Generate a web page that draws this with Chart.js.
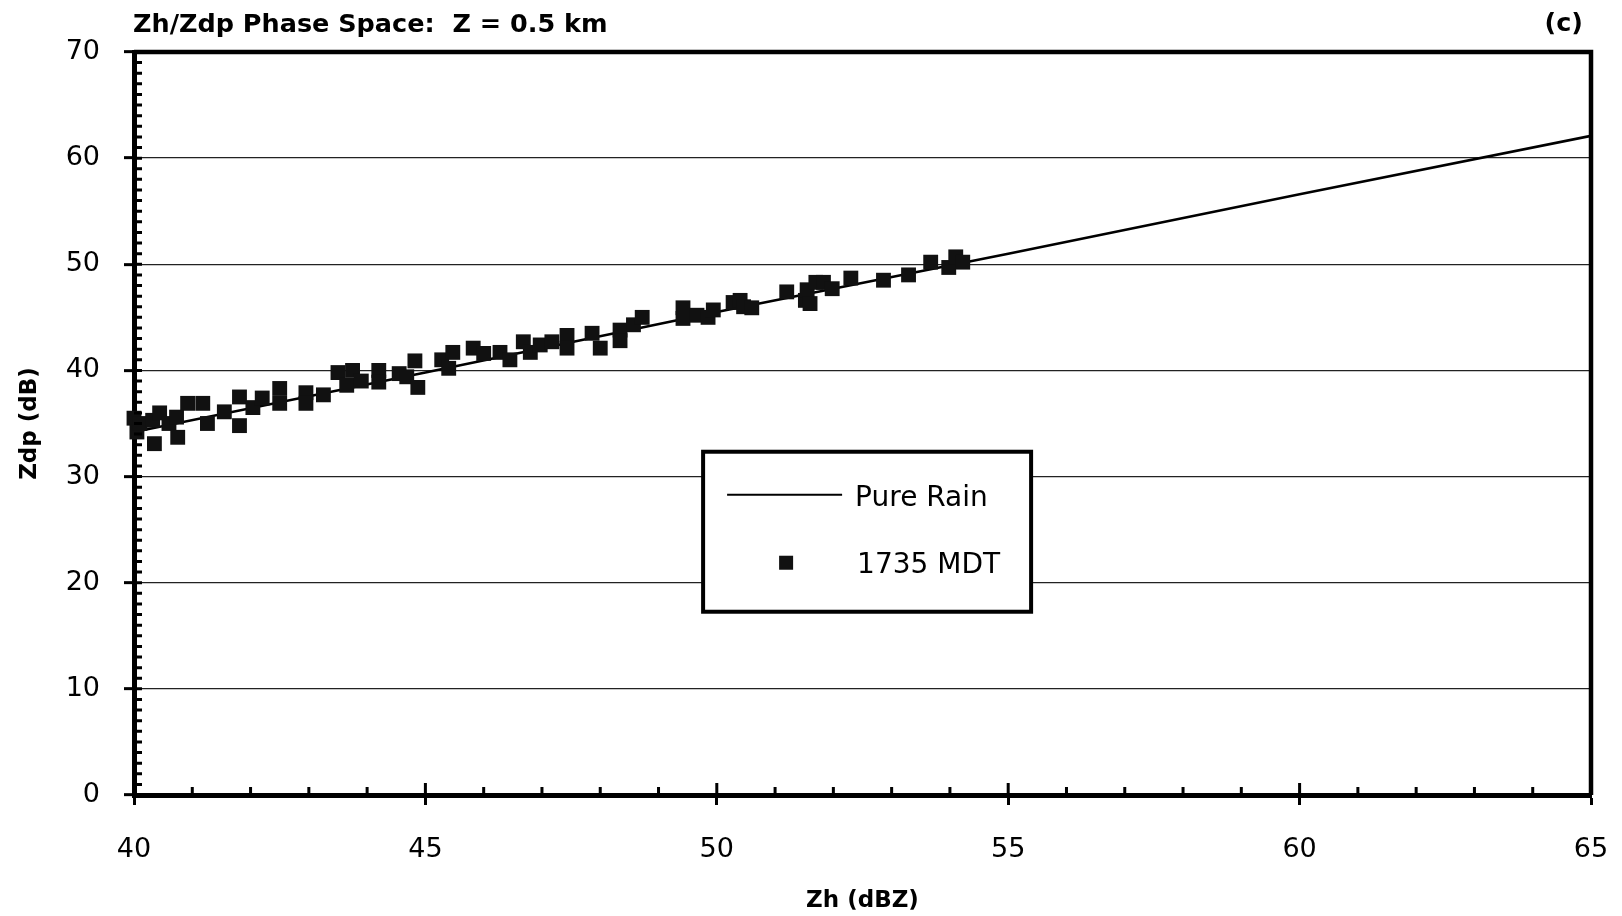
<!DOCTYPE html>
<html>
<head>
<meta charset="utf-8">
<script src="https://cdn.jsdelivr.net/npm/chart.js@4.4.1/dist/chart.umd.min.js"></script>
<style>
  html, body { margin: 0; background: #fff; }
  #wrap { width: 1622px; height: 916px; }
</style>
</head>
<body>
<div id="wrap"><canvas id="myChart" width="1622" height="916"></canvas></div>
<script>
// pure rain reference curve
const rainZh = [40, 45, 50, 55, 60, 65];
const rainZdp = [34.2, 39.8, 45.5, 51.0, 56.6, 62.1];

// 1735 MDT observations
const obsZh = [40.0, 40.05, 40.1, 40.32, 40.35, 40.44, 40.6, 40.73, 40.75, 40.92,
  41.18, 41.26, 41.55, 41.81, 41.81, 42.04, 42.2, 42.5, 42.5, 42.95,
  42.95, 43.25, 43.5, 43.65, 43.75, 43.9, 44.2, 44.2, 44.55, 44.68,
  44.82, 44.87, 45.28, 45.4, 45.47, 45.82, 46.0, 46.28, 46.45, 46.68,
  46.8, 46.97, 47.17, 47.43, 47.43, 47.86, 48.0, 48.34, 48.34, 48.57,
  48.72, 49.42, 49.42, 49.66, 49.85, 49.94, 50.28, 50.4, 50.46, 50.6,
  51.2, 51.52, 51.55, 51.6, 51.7, 51.83, 51.98, 52.3, 52.86, 53.29,
  53.67, 53.98, 54.1, 54.22];
const obsZdp = [35.5, 34.2, 35.0, 35.3, 33.1, 36.0, 35.0, 35.6, 33.7, 36.9,
  36.9, 35.0, 36.1, 37.5, 34.8, 36.5, 37.4, 38.3, 36.9, 37.9,
  36.9, 37.7, 39.8, 38.6, 40.0, 39.0, 40.0, 38.9, 39.7, 39.4,
  40.9, 38.4, 41.0, 40.2, 41.7, 42.1, 41.6, 41.7, 41.0, 42.7,
  41.7, 42.4, 42.7, 43.3, 42.1, 43.5, 42.1, 43.8, 42.8, 44.3,
  45.0, 45.9, 44.9, 45.2, 45.0, 45.7, 46.4, 46.6, 46.0, 45.9,
  47.4, 46.6, 47.6, 46.3, 48.3, 48.3, 47.7, 48.7, 48.5, 49.0,
  50.2, 49.7, 50.7, 50.2];

const xRange = [40, 65];
const yRange = [0, 70];

const chartTitle = 'Zh/Zdp Phase Space:  Z = 0.5 km';
const panelTag = '(c)';

Chart.defaults.font.family = "'DejaVu Sans', sans-serif";
Chart.defaults.color = '#000';

// minor ticks, top/right frame, titles and boxed legend
const decorations = {
  id: 'decorations',
  afterDraw(chart) {
    const {ctx, chartArea: a, scales: {x, y}} = chart;
    ctx.save();
    ctx.strokeStyle = '#000';
    ctx.lineWidth = 3;
    ctx.beginPath();
    for (let v = x.min + 1; v < x.max; v++) {
      const px = x.getPixelForValue(v);
      const len = v % 5 === 0 ? 12 : 8;
      ctx.moveTo(px, a.bottom);
      ctx.lineTo(px, a.bottom - len);
    }
    for (let v = y.min + 1; v < y.max; v++) {
      const py = y.getPixelForValue(v);
      ctx.moveTo(a.left, py);
      ctx.lineTo(a.left + 8, py);
    }
    ctx.stroke();

    ctx.lineWidth = 4.5;
    ctx.beginPath();
    ctx.moveTo(a.left, a.top);
    ctx.lineTo(a.right, a.top);
    ctx.lineTo(a.right, a.bottom);
    ctx.stroke();

    // titles
    ctx.fillStyle = '#000';
    ctx.font = "bold 25.5px 'DejaVu Sans'";
    ctx.textBaseline = 'middle';
    ctx.textAlign = 'left';
    ctx.fillText(chartTitle, a.left - 1, 25);
    ctx.textAlign = 'right';
    ctx.fillText(panelTag, a.right - 8, 24);

    // legend box
    const ds = chart.data.datasets;
    const bx = a.left + (a.right - a.left) * 0.3906;
    const by = a.top + (a.bottom - a.top) * 0.538;
    const bw = 328, bh = 160;
    ctx.fillStyle = '#fff';
    ctx.fillRect(bx, by, bw, bh);
    ctx.lineWidth = 4;
    ctx.strokeRect(bx, by, bw, bh);

    ctx.lineWidth = 2.2;
    ctx.beginPath();
    ctx.moveTo(bx + 24, by + 43);
    ctx.lineTo(bx + 139, by + 43);
    ctx.stroke();
    ctx.fillStyle = '#111';
    ctx.fillRect(bx + 76, by + 104, 14, 14);

    ctx.fillStyle = '#000';
    ctx.font = "28px 'DejaVu Sans'";
    ctx.textAlign = 'left';
    ctx.fillText(ds[1].label, bx + 152, by + 47);
    ctx.fillText(ds[0].label, bx + 154, by + 114);
    ctx.restore();
  }
};

const data = {
  datasets: [
    {
      label: '1735 MDT',
      data: obsZh.map((v, i) => ({x: v, y: obsZdp[i]})),
      pointStyle: 'rect',
      pointRadius: 10.5,
      pointHoverRadius: 10.5,
      backgroundColor: '#111',
      borderWidth: 0,
      clip: 14,
      order: 0
    },
    {
      label: 'Pure Rain',
      data: rainZh.map((v, i) => ({x: v, y: rainZdp[i]})),
      showLine: true,
      borderColor: '#000',
      borderWidth: 2.6,
      pointRadius: 0,
      pointHoverRadius: 0,
      tension: 0,
      order: 1
    }
  ]
};

const config = {
  type: 'scatter',
  data: data,
  options: {
    responsive: false,
    animation: false,
    layout: {
      padding: {top: 52, right: 31, left: 0, bottom: 0}
    },
    plugins: {
      legend: {display: false},
      title: {display: false},
      tooltip: {enabled: false}
    },
    scales: {
      x: {
        type: 'linear',
        min: xRange[0],
        max: xRange[1],
        afterFit(scale) {
          scale.height = 121;
          scale.paddingLeft = 0;
          scale.paddingRight = 0;
        },
        ticks: {
          stepSize: 5,
          padding: 29,
          font: {size: 27},
          color: '#000'
        },
        grid: {
          drawOnChartArea: false,
          tickLength: 10,
          tickWidth: 3,
          tickColor: '#000'
        },
        border: {display: true, color: '#000', width: 5},
        title: {
          display: true,
          text: 'Zh (dBZ)',
          font: {size: 23, weight: 'bold'},
          padding: {top: 0, bottom: 1}
        }
      },
      y: {
        min: yRange[0],
        max: yRange[1],
        afterFit(scale) { scale.width = 134; },
        ticks: {
          stepSize: 10,
          padding: 24,
          font: {size: 27},
          color: '#000'
        },
        grid: {
          color: '#222',
          lineWidth: 1.3,
          tickLength: 10,
          tickWidth: 3,
          tickColor: '#000'
        },
        border: {display: true, color: '#000', width: 5},
        title: {
          display: true,
          text: 'Zdp (dB)',
          font: {size: 23, weight: 'bold'},
          padding: {top: 16, bottom: 0}
        }
      }
    }
  },
  plugins: [decorations]
};

const ctx = document.getElementById('myChart').getContext('2d');
new Chart(ctx, config);
</script>
</body>
</html>
